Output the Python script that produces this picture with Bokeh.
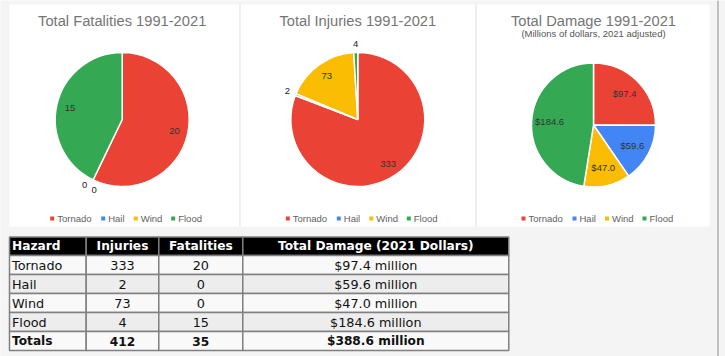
import math
from bokeh.plotting import figure
from bokeh.models import ColumnDataSource, Range1d
from bokeh.core.properties import value
from bokeh.embed import file_html
from bokeh.resources import INLINE

# ---------------- data ----------------
hazards = ["Tornado", "Hail", "Wind", "Flood"]
fatalities = [20, 0, 0, 15]
injuries = [333, 2, 73, 4]
damage = [97.4, 59.6, 47.0, 184.6]
colors = ["#ea4335", "#4285f4", "#fbbc04", "#34a853"]

chart_titles = ["Total Fatalities 1991-2021", "Total Injuries 1991-2021", "Total Damage 1991-2021"]
damage_subtitle = "(Millions of dollars, 2021 adjusted)"
table_headers = ["Hazard", "Injuries", "Fatalities", "Total Damage (2021 Dollars)"]
totals_label = "Totals"

# ---------------- layout helpers ----------------
W, H = 725, 356


def Y(ry):
    return H - ry


CHART_FONT = "Liberation Sans"
TABLE_FONT = "DejaVu Sans"

p = figure(width=W, height=H, x_range=Range1d(0, W), y_range=Range1d(0, H),
           output_backend="svg", toolbar_location=None, min_border=0,
           x_axis_type=None, y_axis_type=None)
p.grid.visible = False
p.outline_line_color = None
p.background_fill_color = "#f4f4f4"
p.border_fill_color = "#f4f4f4"

# panels
p.quad(left=[9, 240, 476], right=[239, 475, 709], top=[Y(4)] * 3, bottom=[Y(226)] * 3,
       fill_color="white", line_color=None)
p.segment(x0=[239.5, 475.5], x1=[239.5, 475.5], y0=[Y(4)] * 2, y1=[Y(226)] * 2,
          line_color="#e3e3e3", line_width=1)
# right edge line
p.segment(x0=[717.5], x1=[717.5], y0=[0], y1=[H], line_color="#9e9e9e", line_width=1.2)


def add_text(xs, ys, texts, size, color, font=CHART_FONT, align="center", style="normal"):
    src = ColumnDataSource(dict(x=xs, y=ys, text=texts))
    p.text(x="x", y="y", text="text", source=src, text_font=value(font),
           text_font_size=value(size), text_color=color, text_align=align,
           text_baseline="middle", text_font_style=style)


pies = [
    dict(vals=fatalities, cx=121.7, cy=119.0, r=67.0, k_in=0.80, fmt=lambda v: f"{v:g}"),
    dict(vals=injuries, cx=357.3, cy=119.0, r=67.0, k_in=0.80, fmt=lambda v: f"{v:g}"),
    dict(vals=damage, cx=593.0, cy=124.5, r=62.0, k_in=0.71, fmt=lambda v: f"${v:.1f}"),
]

LEGEND_DX = [0, 51, 83.5, 121]

for idx, spec in enumerate(pies):
    vals = spec["vals"]
    total = sum(vals)
    cx, cy, r = spec["cx"], spec["cy"], spec["r"]
    cum = 0.0
    wx, wy, ws, we, wc = [], [], [], [], []
    in_x, in_y, in_t = [], [], []
    out_items = []
    for v, c in zip(vals, colors):
        th1 = cum / total * 360.0
        th2 = (cum + v) / total * 360.0
        cum += v
        mid = (th1 + th2) / 2.0
        if v > 0:
            wx.append(cx); wy.append(Y(cy)); wc.append(c)
            ws.append(math.radians(90 - th2)); we.append(math.radians(90 - th1))
        if v / total >= 0.05:
            d = spec["k_in"] * r
            in_x.append(cx + d * math.sin(math.radians(mid)))
            in_y.append(Y(cy - d * math.cos(math.radians(mid))))
            in_t.append(spec["fmt"](v))
        else:
            out_items.append((mid, spec["fmt"](v)))
    p.wedge(x=wx, y=wy, radius=r, start_angle=ws, end_angle=we,
            fill_color=wc, line_color="white", line_width=1.5)
    add_text(in_x, in_y, in_t, "9.5px", "#333333")
    # outside labels, spread those that share an angle
    groups = {}
    for mid, t in out_items:
        groups.setdefault(round(mid, 1), []).append(t)
    ox, oy, ot = [], [], []
    for mid, ts in groups.items():
        n = len(ts)
        for i, t in enumerate(ts):
            a = mid + (i - (n - 1) / 2.0) * 8.0
            d = 1.13 * r
            ox.append(cx + d * math.sin(math.radians(a)))
            oy.append(Y(cy - d * math.cos(math.radians(a))))
            ot.append(t)
    add_text(ox, oy, ot, "9.5px", "#222222")

    # title
    add_text([cx], [Y(20)], [chart_titles[idx]], "14.7px", "#757575")
    # legend
    start = cx - 71.5
    p.scatter(x=[start + dx + 1.5 for dx in LEGEND_DX], y=[Y(218)] * 4, marker="square",
              size=4, fill_color=colors, line_color=None)
    add_text([start + dx + 6.5 for dx in LEGEND_DX], [Y(218)] * 4, hazards, "9.5px",
             "#616161", align="left")

add_text([pies[2]["cx"]], [Y(33)], [damage_subtitle], "9.5px", "#555555")

# ---------------- table ----------------
col_x = [9, 85.7, 158.3, 242.3, 508.3]
row_y = [236.5, 255, 274, 293, 312, 331, 350]
row_fill = ["#000000", "#f9f9f9", "#ededed", "#f9f9f9", "#ededed", "#f9f9f9"]

ql, qr, qt, qb, qf = [], [], [], [], []
for ri in range(len(row_y) - 1):
    for ci in range(len(col_x) - 1):
        ql.append(col_x[ci]); qr.append(col_x[ci + 1])
        qt.append(Y(row_y[ri])); qb.append(Y(row_y[ri + 1]))
        qf.append(row_fill[ri])
p.quad(left=ql, right=qr, top=qt, bottom=qb, fill_color=qf, line_color="#808080", line_width=1.5)

col_cx = [(col_x[i] + col_x[i + 1]) / 2 for i in range(len(col_x) - 1)]
row_cy = [(row_y[i] + row_y[i + 1]) / 2 for i in range(len(row_y) - 1)]
TX = col_x[0] + 2.5

# header
add_text([TX], [Y(row_cy[0])], [table_headers[0]], "12.2px", "white", font=TABLE_FONT,
         align="left", style="bold")
add_text(col_cx[1:], [Y(row_cy[0])] * 3, table_headers[1:], "12.2px", "white",
         font=TABLE_FONT, style="bold")

# body
body_y = [Y(c) for c in row_cy[1:5]]
add_text([TX] * 4, body_y, hazards, "12.8px", "#111111", font=TABLE_FONT, align="left")
add_text([col_cx[1]] * 4, body_y, [str(v) for v in injuries], "12.8px", "#111111", font=TABLE_FONT)
add_text([col_cx[2]] * 4, body_y, [str(v) for v in fatalities], "12.8px", "#111111", font=TABLE_FONT)
add_text([col_cx[3]] * 4, body_y, [f"${v:.1f} million" for v in damage], "12.8px", "#111111",
         font=TABLE_FONT)

# totals
ty = Y(row_cy[5])
add_text([TX], [ty], [totals_label], "12.2px", "#111111", font=TABLE_FONT, align="left", style="bold")
add_text(col_cx[1:], [ty] * 3,
         [str(sum(injuries)), str(sum(fatalities)), f"${sum(damage):.1f} million"],
         "12.2px", "#111111", font=TABLE_FONT, style="bold")

open("out.html", "w").write(file_html(p, INLINE))
